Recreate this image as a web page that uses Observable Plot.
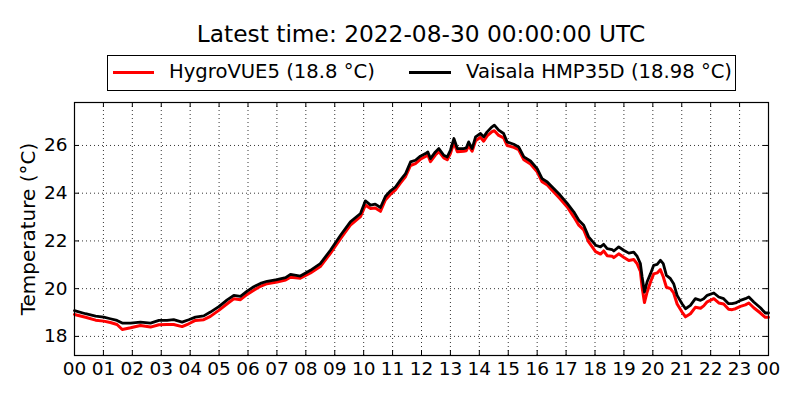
<!DOCTYPE html>
<html>
<head>
<meta charset="utf-8">
<script src="https://cdn.jsdelivr.net/npm/d3@7"></script>
<script src="https://cdn.jsdelivr.net/npm/@observablehq/plot@0.6"></script>
<style>
  html, body { margin: 0; padding: 0; background: white; }
  #page { position: relative; width: 800px; height: 400px; font-family: "DejaVu Sans", sans-serif; color: black; overflow: hidden; }
  #title { position: absolute; left: 74px; width: 694px; top: 21px; line-height: 26px; text-align: center; font-size: 23.3px; white-space: nowrap; }
  #legend { position: absolute; left: 107px; top: 55px; width: 627px; height: 34px; border: 1px solid black; box-sizing: content-box; }
  .lg-line { position: absolute; height: 3px; top: 14.5px; }
  .lg-text { position: absolute; top: 4px; line-height: 24px; font-size: 19.6px; white-space: nowrap; }
  #chart { position: absolute; left: 0; top: 92px; }
</style>
</head>
<body>
<div id="page">
  <div id="title"></div>
  <div id="legend"></div>
  <div id="chart"></div>
</div>
<script>
const titleText = "Latest time: 2022-08-30 00:00:00 UTC";
const seriesNames = ["HygroVUE5 (18.8 °C)", "Vaisala HMP35D (18.98 °C)"];
const seriesColors = ["red", "black"];
const yLabel = "Temperature (°C)";

const hours = [0.00,0.38,0.73,1.01,1.24,1.47,1.65,1.94,2.28,2.63,2.92,3.20,3.43,3.72,3.95,4.18,4.47,4.70,4.99,5.28,5.51,5.74,5.97,6.20,6.43,6.66,7.00,7.30,7.47,7.81,8.16,8.50,8.85,9.20,9.54,9.89,10.06,10.24,10.40,10.58,10.75,10.93,11.10,11.27,11.45,11.62,11.79,11.96,12.14,12.22,12.31,12.48,12.60,12.77,12.89,13.00,13.12,13.24,13.46,13.55,13.63,13.75,13.87,14.04,14.15,14.27,14.44,14.52,14.67,14.84,14.96,15.19,15.36,15.54,15.77,16.00,16.17,16.35,16.46,16.80,17.04,17.27,17.44,17.61,17.78,18.02,18.19,18.30,18.42,18.59,18.65,18.82,18.99,19.17,19.34,19.46,19.57,19.63,19.71,19.80,19.92,20.03,20.15,20.26,20.36,20.47,20.61,20.72,20.84,21.01,21.13,21.30,21.47,21.65,21.76,21.88,22.11,22.28,22.45,22.62,22.74,22.86,23.03,23.20,23.32,23.49,23.72,23.89,24.00];

const vaisala = [19.08,18.95,18.85,18.81,18.74,18.67,18.56,18.56,18.60,18.56,18.67,18.67,18.70,18.60,18.70,18.81,18.86,19.02,19.25,19.53,19.72,19.68,19.90,20.08,20.22,20.31,20.38,20.46,20.60,20.53,20.77,21.05,21.61,22.24,22.80,23.15,23.68,23.50,23.54,23.40,23.86,24.10,24.26,24.55,24.82,25.31,25.38,25.55,25.66,25.73,25.45,25.73,25.87,25.59,25.52,25.80,26.29,25.87,25.87,25.90,26.15,25.87,26.36,26.50,26.36,26.57,26.78,26.85,26.64,26.50,26.15,26.05,25.94,25.52,25.35,25.03,24.61,24.47,24.33,23.91,23.57,23.21,22.87,22.66,22.17,21.82,21.75,21.86,21.68,21.64,21.58,21.75,21.61,21.49,21.53,21.35,21.05,20.49,19.86,20.28,20.63,20.98,21.02,21.19,21.05,20.56,20.42,20.21,19.72,19.37,19.16,19.30,19.58,19.51,19.58,19.72,19.82,19.65,19.58,19.37,19.37,19.40,19.51,19.58,19.65,19.44,19.20,18.98,18.98];

const hygrovue = [18.92,18.80,18.68,18.64,18.58,18.50,18.29,18.36,18.46,18.39,18.49,18.50,18.50,18.41,18.53,18.67,18.70,18.84,19.09,19.37,19.58,19.54,19.76,19.93,20.10,20.21,20.28,20.36,20.48,20.44,20.66,20.93,21.48,22.10,22.66,23.02,23.50,23.36,23.38,23.24,23.72,23.96,24.14,24.42,24.70,25.16,25.24,25.42,25.54,25.60,25.32,25.60,25.74,25.48,25.40,25.66,26.12,25.74,25.76,25.78,26.00,25.76,26.20,26.34,26.18,26.40,26.58,26.62,26.42,26.32,26.00,25.92,25.82,25.40,25.22,24.90,24.48,24.34,24.20,23.76,23.42,23.00,22.66,22.46,21.96,21.55,21.45,21.58,21.38,21.36,21.30,21.46,21.32,21.18,21.22,21.04,20.72,20.05,19.42,19.85,20.28,20.62,20.66,20.80,20.50,20.06,20.00,19.82,19.36,19.02,18.82,18.95,19.22,19.18,19.28,19.45,19.58,19.40,19.36,19.14,19.12,19.16,19.26,19.32,19.40,19.20,18.98,18.80,18.80];

const xTicks = [0,1,2,3,4,5,6,7,8,9,10,11,12,13,14,15,16,17,18,19,20,21,22,23,24];
const xTickLabels = ["00","01","02","03","04","05","06","07","08","09","10","11","12","13","14","15","16","17","18","19","20","21","22","23","00"];
const yTicks = [18,20,22,24,26];
const yDomain = [17.2, 27.8];

document.getElementById("title").textContent = titleText;

const legend = document.getElementById("legend");
const legendLayout = [{line: 5, text: 61, w: 41}, {line: 301, text: 358, w: 42}];
seriesNames.forEach((name, i) => {
  const l = document.createElement("div");
  l.className = "lg-line";
  l.style.left = legendLayout[i].line + "px";
  l.style.width = legendLayout[i].w + "px";
  l.style.background = seriesColors[i];
  legend.appendChild(l);
  const t = document.createElement("div");
  t.className = "lg-text";
  t.style.left = legendLayout[i].text + "px";
  t.textContent = name;
  legend.appendChild(t);
});

const hygroData = hours.map((h, i) => ({h, t: hygrovue[i]}));
const vaisalaData = hours.map((h, i) => ({h, t: vaisala[i]}));

const W = 800, H = 308, mt = 10, mb = 45, ml = 74, mr = 32;
const plotW = W - ml - mr, plotH = H - mt - mb, tick = 5;
const fmtX = d => xTickLabels[xTicks.indexOf(d)];

const chart = Plot.plot({
  width: W, height: H,
  marginTop: mt, marginBottom: mb, marginLeft: ml, marginRight: mr,
  style: {fontFamily: "DejaVu Sans", fontSize: "18.5px", color: "black", background: "white", overflow: "visible"},
  x: {domain: [0, 24]},
  y: {domain: yDomain},
  marks: [
    Plot.gridX(xTicks, {stroke: "black", strokeOpacity: 1, strokeWidth: 0.8, strokeDasharray: "1,3"}),
    Plot.gridY(yTicks, {stroke: "black", strokeOpacity: 1, strokeWidth: 0.8, strokeDasharray: "1,3"}),
    Plot.line(hygroData, {x: "h", y: "t", stroke: seriesColors[0], strokeWidth: 3}),
    Plot.line(vaisalaData, {x: "h", y: "t", stroke: seriesColors[1], strokeWidth: 2.8}),
    Plot.tickX(xTicks, {x: d => d, stroke: "black", insetTop: plotH - tick}),
    Plot.tickX(xTicks, {x: d => d, stroke: "black", insetBottom: plotH - tick}),
    Plot.tickY(yTicks, {y: d => d, stroke: "black", insetRight: plotW - tick}),
    Plot.tickY(yTicks, {y: d => d, stroke: "black", insetLeft: plotW - tick}),
    Plot.frame({stroke: "black", strokeWidth: 1.2}),
    Plot.axisX(xTicks, {tickSize: 0, tickPadding: 6, fontSize: 18.5, tickFormat: fmtX, label: null}),
    Plot.axisY(yTicks, {tickSize: 0, tickPadding: 7, fontSize: 18.5, label: null}),
    Plot.text([yLabel], {frameAnchor: "left", rotate: -90, dx: -46, fontSize: 20, textAnchor: "middle", fill: "black"})
  ]
});
document.getElementById("chart").appendChild(chart);
</script>
</body>
</html>
